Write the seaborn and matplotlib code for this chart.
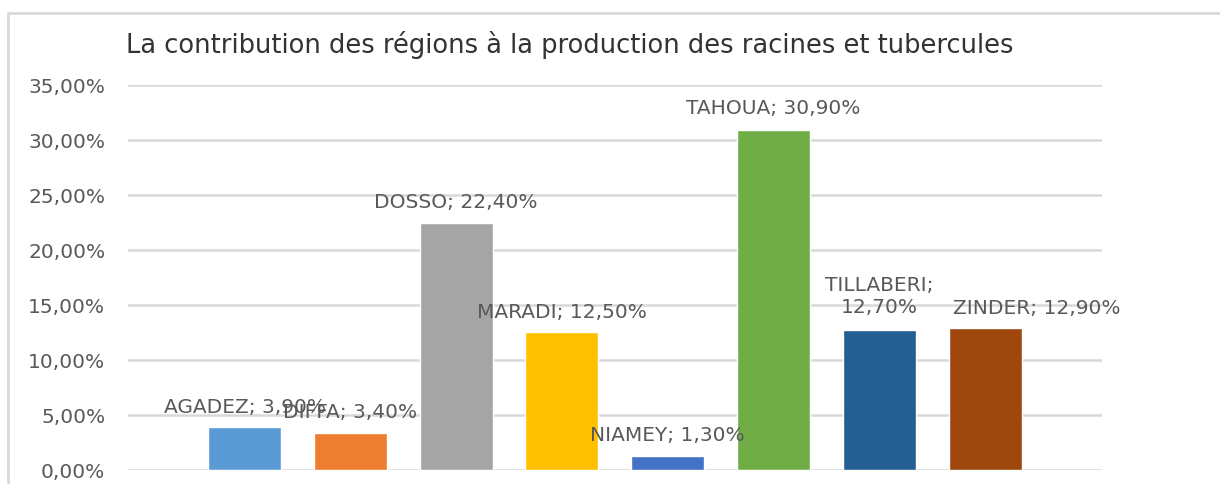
import matplotlib
matplotlib.use("Agg")
import matplotlib.pyplot as plt
from matplotlib.patches import Rectangle
from matplotlib.ticker import FuncFormatter, MultipleLocator
import seaborn as sns
import pandas as pd

# data
regions = ["AGADEZ", "DIFFA", "DOSSO", "MARADI", "NIAMEY", "TAHOUA", "TILLABERI", "ZINDER"]
shares = [3.9, 3.4, 22.4, 12.5, 1.3, 30.9, 12.7, 12.9]
bar_colors = ["#5B9BD5", "#ED7D31", "#A5A5A5", "#FFC000", "#4472C4", "#70AD47", "#255E91", "#9E480E"]
title = "La contribution des régions à la production des racines et tubercules"

# label offsets in points (dx, dy) - excel placed them a bit oddly
label_offsets = [(0, 15), (0, 15), (0, 16), (0, 15), (0, 15), (0, 16), (0, 25), (37, 15)]

df = pd.DataFrame({"region": regions, "share": shares})

sns.set_style("white")
plt.rcParams["font.family"] = ["DejaVu Sans"]
grey_txt = "#595959"
grid_col = "#D9D9D9"

fig = plt.figure(figsize=(12.2, 4.85), dpi=100)
ax = fig.add_axes([0.105, 0.029, 0.798, 0.794])

sns.barplot(data=df, x="region", y="share", hue="region", palette=bar_colors,
            legend=False, width=0.69, saturation=1, ax=ax, zorder=2)

ax.set_ylim(0, 35)
ax.set_xlim(-1.1, len(regions) - 1 + 1.1)
ax.yaxis.set_major_locator(MultipleLocator(5))
ax.yaxis.set_major_formatter(FuncFormatter(lambda v, p: f"{v:.2f}%".replace(".", ",")))
ax.grid(axis="y", color=grid_col, lw=1.8, zorder=0)
ax.set_axisbelow(True)
for s in ax.spines.values():
    s.set_visible(False)
ax.set_xticks([])
ax.set_xlabel("")
ax.set_ylabel("")
ax.tick_params(axis="y", length=0, pad=16.5, labelsize=14.5, labelcolor=grey_txt)

for i, (name, val) in enumerate(zip(regions, shares)):
    txt = f"{name}; {val:.2f}%".replace(".", ",")
    if name == "TILLABERI":
        txt = txt.replace("; ", ";\n")
    dx, dy = label_offsets[i]
    ax.annotate(txt, xy=(i, val), xytext=(dx, dy), textcoords="offset points",
                ha="center", va="center", fontsize=14.5, color=grey_txt,
                zorder=5, linespacing=1.15)

fig.text(570 / 1220, 1 - 45 / 485, title, ha="center", va="center",
         fontsize=18.5, color="#333333")

# outer chart frame (cut off at right/bottom like the screenshot)
fig.patches.append(Rectangle((8 / 1220, -0.1), 1.2, 1 - 14 / 485 + 0.1,
                             transform=fig.transFigure, fill=False,
                             edgecolor=grid_col, lw=2))

fig.savefig("out.png", dpi=100)
